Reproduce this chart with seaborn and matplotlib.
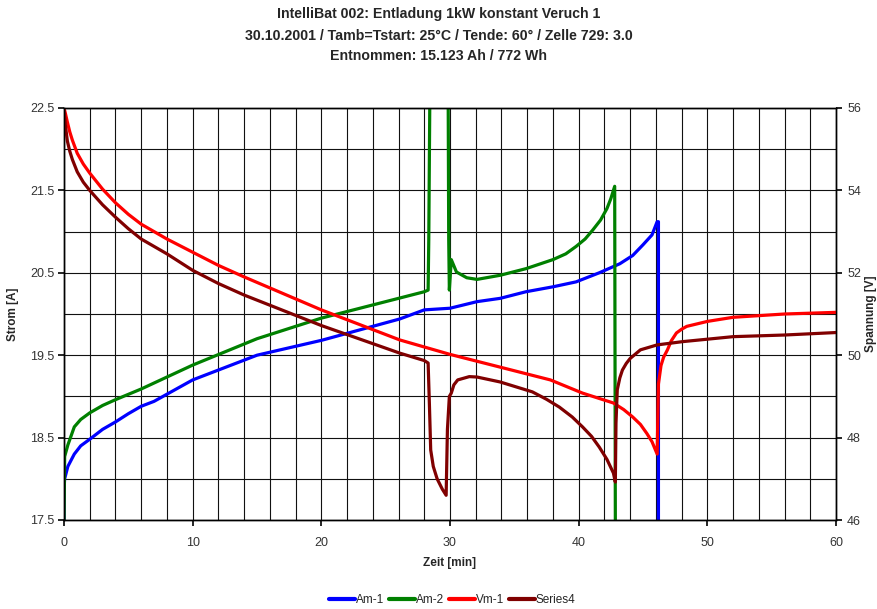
import matplotlib
matplotlib.use('Agg')
import numpy as np
import matplotlib.pyplot as plt
import seaborn as sns

# time [min] and current [A] for Am-1
am1_t = [0, 0, 0.05, 0.3, 0.8, 1.3, 2, 3, 4, 5, 6, 7, 10, 15, 20, 26.1, 28, 30,
         32.1, 33.9, 35.9, 38, 39.8, 41.6, 43.2, 44.2, 45, 45.7, 46.1, 46.2, 46.2]
am1_v = [17.5, 17.86, 18.0, 18.15, 18.3, 18.4, 18.48, 18.6, 18.69, 18.79, 18.88,
         18.94, 19.2, 19.5, 19.68, 19.94, 20.05, 20.07, 20.15, 20.19, 20.27,
         20.33, 20.39, 20.5, 20.61, 20.71, 20.84, 20.96, 21.12, 21.12, 17.5]

# Am-2 current [A]
am2_t = [0, 0.05, 0.3, 0.8, 1.3, 2, 3, 4, 6, 10, 15, 20, 25, 28, 28.3, 28.35,
         28.45, 29.85, 29.9, 29.95, 30.1, 30.5, 31.3, 32.1, 33.9, 35.9, 38, 39,
         39.8, 40.5, 41.1, 41.7, 42.2, 42.5, 42.8, 42.85]
am2_v = [17.5, 18.27, 18.41, 18.63, 18.72, 18.8, 18.89, 18.96, 19.09, 19.38,
         19.7, 19.95, 20.15, 20.27, 20.29, 20.9, 23.0, 23.0, 20.9, 20.29, 20.66,
         20.51, 20.44, 20.42, 20.47, 20.55, 20.66, 20.73, 20.82, 20.91, 21.02,
         21.14, 21.28, 21.4, 21.55, 17.5]

# Vm-1 voltage [V]
vm1_t = [0, 0.1, 0.26, 0.45, 0.65, 1.03, 1.5, 2, 3, 4, 5, 6, 8, 10, 12, 14, 20,
         26.1, 30, 33.9, 37.8, 40.3, 42.7, 43.5, 44.2, 44.8, 45.3, 45.7, 46.1,
         46.2, 46.4, 46.6, 46.9, 47.2, 47.6, 48, 48.4, 50, 52, 54, 56, 60]
vm1_v = [56, 55.88, 55.66, 55.42, 55.22, 54.9, 54.64, 54.42, 54.03, 53.7, 53.42,
         53.18, 52.82, 52.5, 52.18, 51.9, 51.1, 50.37, 50.02, 49.71, 49.4, 49.08,
         48.84, 48.68, 48.5, 48.32, 48.1, 47.9, 47.6, 49.3, 49.75, 49.95, 50.13,
         50.35, 50.54, 50.63, 50.7, 50.82, 50.92, 50.96, 51.0, 51.04]

# Series4 voltage [V]
s4_t = [0, 0.05, 0.1, 0.26, 0.45, 0.65, 1.03, 1.5, 2, 3, 4, 5, 6, 8, 10, 12, 14,
        20, 26.1, 28, 28.3, 28.4, 28.5, 28.7, 29.0, 29.4, 29.7, 29.8, 29.95,
        30.1, 30.3, 30.6, 31.5, 32.1, 33.9, 36.4, 37.5, 38.5, 39.5, 40.3, 41,
        41.6, 42.2, 42.7, 42.85, 42.9, 43.0, 43.2, 43.4, 43.7, 44, 44.8, 46.1,
        48.1, 52, 56, 60]
s4_v = [56, 55.8, 55.6, 55.2, 54.95, 54.75, 54.45, 54.2, 54.0, 53.65, 53.35,
        53.07, 52.82, 52.46, 52.06, 51.74, 51.46, 50.72, 50.05, 49.87, 49.81,
        48.8, 47.7, 47.3, 47.0, 46.75, 46.6, 48.2, 49.0, 49.08, 49.28, 49.4,
        49.48, 49.47, 49.35, 49.11, 48.93, 48.74, 48.5, 48.26, 48.03, 47.77,
        47.47, 47.14, 46.92, 48.35, 49.16, 49.45, 49.64, 49.8, 49.92, 50.13,
        50.25, 50.33, 50.45, 50.49, 50.55]

title_lines = ["IntelliBat 002: Entladung 1kW konstant Veruch 1",
               "30.10.2001 / Tamb=Tstart: 25°C / Tende: 60° / Zelle 729: 3.0",
               "Entnommen: 15.123 Ah / 772 Wh"]

sns.set_theme(style='white')
plt.rcParams['font.family'] = ['Liberation Sans', 'DejaVu Sans']

fig = plt.figure(figsize=(8.78, 6.09), dpi=100)
ax = fig.add_axes([64 / 878, 1 - 520 / 609, (836 - 64) / 878, (520 - 108) / 609])
ax2 = ax.twinx()

lw = 2.3
sns.lineplot(x=am1_t, y=am1_v, ax=ax, color='#0000ff', lw=lw, sort=False,
             estimator=None, label='Am-1')
sns.lineplot(x=am2_t, y=am2_v, ax=ax, color='#008000', lw=lw, sort=False,
             estimator=None, label='Am-2')
sns.lineplot(x=vm1_t, y=vm1_v, ax=ax2, color='#ff0000', lw=lw, sort=False,
             estimator=None, label='Vm-1')
sns.lineplot(x=s4_t, y=s4_v, ax=ax2, color='#800000', lw=lw, sort=False,
             estimator=None, label='Series4')

ax.set_xlim(0, 60)
ax.set_ylim(17.5, 22.5)
ax2.set_ylim(46, 56)

ax.set_xticks(np.arange(0, 61, 10))
ax.set_xticks(np.arange(0, 61, 2), minor=True)
ax.set_yticks(np.arange(17.5, 22.6, 1.0))
ax.set_yticks(np.arange(18.0, 22.6, 1.0), minor=True)
ax.set_yticklabels([f"{v:.1f}" for v in np.arange(17.5, 22.6, 1.0)])
ax2.set_yticks(np.arange(46, 57, 2))

ax.grid(True, which='both', color='#111111', lw=0.8)
ax.set_axisbelow(True)
ax2.grid(False)

tick_color = '#333333'
ax.tick_params(axis='both', which='major', direction='out', length=4, width=1.2,
               color='black', labelsize=9, labelcolor=tick_color, pad=3,
               left=True, bottom=True)
ax.tick_params(axis='both', which='minor', length=0)
ax2.tick_params(axis='y', direction='out', length=4, width=1.2, color='black',
                labelsize=9, labelcolor=tick_color, right=True, pad=4)
ax.tick_params(axis='x', pad=8)

for a in (ax, ax2):
    for sp in a.spines.values():
        sp.set_color('black')
        sp.set_linewidth(1.0)

ax.set_xlabel('Zeit [min]', fontsize=8.5, fontweight='bold', labelpad=6)
ax.set_ylabel('Strom [A]', fontsize=8.5, fontweight='bold', labelpad=8)
ax2.set_ylabel('Spannung [V]', fontsize=8.5, fontweight='bold', labelpad=3)

for txt, yy in zip(title_lines, [14, 36, 56]):
    fig.text(0.5, 1 - yy / 609, txt, ha='center', va='center',
             fontsize=10.2, fontweight='bold')

h1, l1 = ax.get_legend_handles_labels()
h2, l2 = ax2.get_legend_handles_labels()
ax.get_legend().remove()
ax2.get_legend().remove()
leg = fig.legend(h1 + h2, l1 + l2, loc='center', bbox_to_anchor=(0.515, 1 - 600 / 609),
                 ncol=4, frameon=False, fontsize=8.5, handlelength=2.2,
                 handletextpad=0.1, columnspacing=0.4)
for line in leg.get_lines():
    line.set_linewidth(3)

fig.savefig('out.png', dpi=100)
